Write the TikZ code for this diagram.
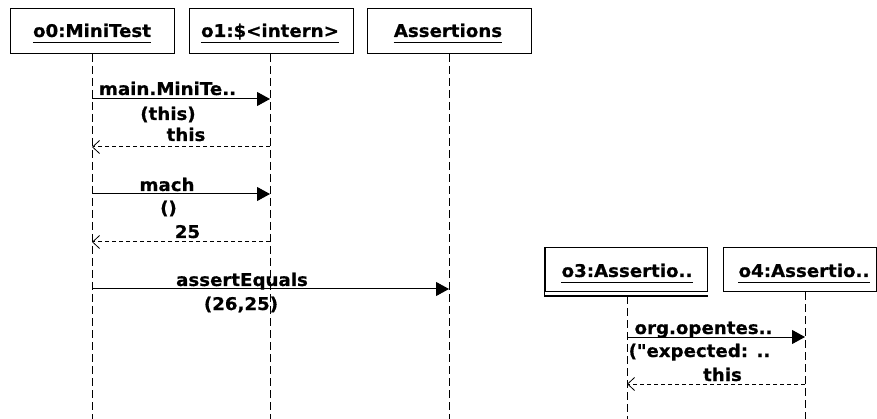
\documentclass[tikz,border=0pt]{standalone}
\usepackage{fontspec}
\usetikzlibrary{arrows.meta}
\newfontfamily\seqfont[FakeStretch=1.04,FakeBold=0.6]{DejaVu Sans}

\tikzset{
  lbl/.style={inner sep=0pt, anchor=base, font=\seqfont\bfseries\fontsize{17.5}{19}\selectfont},
  objbox/.style={draw, line width=1pt, minimum width=164pt, minimum height=45pt, inner sep=0pt},
  lifeline/.style={line width=1pt, dash pattern=on 8pt off 4pt},
  call/.style={line width=1pt, -{Triangle[length=13pt,width=14pt]}},
  reply/.style={line width=1pt, dash pattern=on 4pt off 3pt, -{Straight Barb[length=7pt,width=13pt,line width=0.8pt]}},
}

\begin{document}
\begin{tikzpicture}[x=1pt, y=-1pt]
\useasboundingbox (0,0) rectangle (877,419);

% object boxes
\node[objbox] (b0) at (92,31.5) {};
\node[objbox] (b1) at (271,31.5) {};
\node[objbox] (bA) at (449,31.5) {};
\node[objbox, minimum width=162pt, minimum height=44pt] (b3) at (626,270) {};
\node[objbox, minimum width=153pt, minimum height=44pt] (b4) at (799.5,270) {};
% second line under o3
\draw[line width=1pt] ([yshift=-3.5pt]b3.south west) -- ([yshift=-3.5pt]b3.south east);
\draw[line width=1.6pt] ([yshift=-4pt]b3.south west) -- (b3.north west);

% object names, underlined
\foreach \n/\x/\y/\t in {t0/92/37/o0:MiniTest, t1/270/37/o1:\$<intern>, tA/448/37/Assertions,
                          t3/627/277/o3:Assertio.., t4/804/277/o4:Assertio..}{
  \node[lbl] (\n) at (\x,\y) {\t};
  \draw[line width=1pt] ([yshift=-6pt]\n.base west) -- ([yshift=-6pt]\n.base east);
}

% lifeline ends
\coordinate (l0) at (92,54);   \coordinate (e0) at (92,419);
\coordinate (l1) at (270,54);  \coordinate (e1) at (270,419);
\coordinate (lA) at (449,54);  \coordinate (eA) at (449,419);
\coordinate (l3) at (627,296); \coordinate (e3) at (627,419);
\coordinate (l4) at (805,292); \coordinate (e4) at (805,419);

\foreach \a/\b in {l0/e0, l1/e1, lA/eA, l3/e3, l4/e4}
  \draw[lifeline] (\a) -- (\b);

% messages between o0 and o1
\draw[call]  (l0 |- 0,99)  -- (l1 |- 0,99);
\draw[reply] (l1 |- 0,147) -- (l0 |- 0,147);
\draw[call]  (l0 |- 0,194) -- (l1 |- 0,194);
\draw[reply] (l1 |- 0,242) -- (l0 |- 0,242);
% call to Assertions
\draw[call]  (l0 |- 0,289) -- (lA |- 0,289);
% messages between o3 and o4
\draw[call]  (l3 |- 0,337) -- (l4 |- 0,337);
\draw[reply] (l4 |- 0,384) -- (l3 |- 0,384);

% message labels
\node[lbl] (m1a) at (167.5,95)  {main.MiniTe..};
\node[lbl] (m1b) at (168,120)   {(this)};
\node[lbl] (r1)  at (186,141)   {this};
\node[lbl] (m2a) at (167,191)   {mach};
\node[lbl] (m2b) at (168.5,214) {()};
\node[lbl] (r2)  at (187.5,238) {25};
\node[lbl] (m3a) at (242,286)   {assertEquals};
\node[lbl] (m3b) at (241,310)   {(26,25)};
\node[lbl] (m4a) at (703.5,334) {org.opentes..};
\node[lbl] (m4b) at (699.5,357) {("expected: ..};
\node[lbl] (r4)  at (722.5,381) {this};
\end{tikzpicture}
\end{document}
